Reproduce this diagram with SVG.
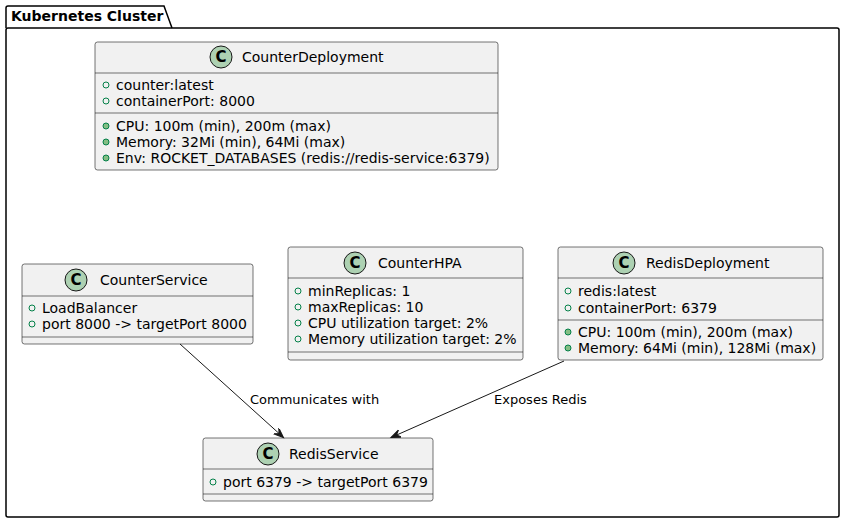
<svg xmlns="http://www.w3.org/2000/svg" width="846" height="523" viewBox="0 0 846 523">
<style>
text{font-family:"DejaVu Sans","Noto Sans",sans-serif;fill:#000}
.box{fill:#F1F1F1;stroke:#181818;stroke-width:0.6}
.sep{stroke:#181818;stroke-width:0.6}
.ci{fill:#ADD1B2;stroke:#181818;stroke-width:1}
.cl{font-size:15px;font-weight:bold;text-anchor:middle}
.nm{font-size:14px}
.at{font-size:14px}
.fo{fill:none;stroke:#038048;stroke-width:1}
.mo{fill:#84BE84;stroke:#038048;stroke-width:1}
.lbl{font-size:13px}
.edge{stroke:#181818;stroke-width:1;fill:none}
</style>
<defs>
<marker id="arr" markerWidth="12" markerHeight="10" refX="10" refY="4" orient="auto" markerUnits="userSpaceOnUse">
<path d="M0,0 L10,4 L0,8 L4,4 Z" fill="#181818" stroke="#181818" stroke-width="1" stroke-linejoin="miter"/>
</marker>
</defs>
<g id="package">
<path d="M6,28 L6,8 Q6,6 8,6 L164,6 L172,28" fill="none" stroke="#000" stroke-width="1.5"/>
<rect x="6" y="28" width="833" height="489" rx="2" fill="none" stroke="#000" stroke-width="1.5"/>
<text x="11" y="21" style="font-size:14px;font-weight:bold">Kubernetes Cluster</text>
</g>
<g id="CounterDeployment">
<rect class="box" x="95" y="42" width="403" height="128" rx="2.5"/>
<circle class="ci" cx="221" cy="57" r="11"/>
<text class="cl" x="221" y="62">C</text>
<text class="nm" x="242" y="62">CounterDeployment</text>
<line class="sep" x1="95" y1="73" x2="498" y2="73"/>
<circle class="fo" cx="106" cy="85" r="3"/><text class="at" x="116" y="90">counter:latest</text>
<circle class="fo" cx="106" cy="101" r="3"/><text class="at" x="116" y="106">containerPort: 8000</text>
<line class="sep" x1="95" y1="113" x2="498" y2="113"/>
<circle class="mo" cx="106" cy="126" r="3"/><text class="at" x="116" y="131">CPU: 100m (min), 200m (max)</text>
<circle class="mo" cx="106" cy="142" r="3"/><text class="at" x="116" y="147">Memory: 32Mi (min), 64Mi (max)</text>
<circle class="mo" cx="106" cy="158" r="3"/><text class="at" x="116" y="163">Env: ROCKET_DATABASES (redis://redis-service:6379)</text>
</g>
<g id="CounterService">
<rect class="box" x="22" y="264" width="231" height="80" rx="2.5"/>
<circle class="ci" cx="76" cy="280" r="11"/>
<text class="cl" x="76" y="285">C</text>
<text class="nm" x="100" y="285">CounterService</text>
<line class="sep" x1="22" y1="296" x2="253" y2="296"/>
<circle class="fo" cx="32" cy="308" r="3"/><text class="at" x="42" y="313">LoadBalancer</text>
<circle class="fo" cx="32" cy="324" r="3"/><text class="at" x="42" y="329">port 8000 -&gt; targetPort 8000</text>
<line class="sep" x1="22" y1="337" x2="253" y2="337"/>
</g>
<g id="CounterHPA">
<rect class="box" x="288" y="247" width="235" height="113" rx="2.5"/>
<circle class="ci" cx="355" cy="263" r="11"/>
<text class="cl" x="355" y="268">C</text>
<text class="nm" x="378" y="268">CounterHPA</text>
<line class="sep" x1="288" y1="278" x2="523" y2="278"/>
<circle class="fo" cx="298" cy="291" r="3"/><text class="at" x="308" y="296">minReplicas: 1</text>
<circle class="fo" cx="298" cy="307" r="3"/><text class="at" x="308" y="312">maxReplicas: 10</text>
<circle class="fo" cx="298" cy="323" r="3"/><text class="at" x="308" y="328">CPU utilization target: 2%</text>
<circle class="fo" cx="298" cy="339" r="3"/><text class="at" x="308" y="344">Memory utilization target: 2%</text>
<line class="sep" x1="288" y1="352" x2="523" y2="352"/>
</g>
<g id="RedisDeployment">
<rect class="box" x="558" y="247" width="265" height="113" rx="2.5"/>
<circle class="ci" cx="624" cy="263" r="11"/>
<text class="cl" x="624" y="268">C</text>
<text class="nm" x="646" y="268">RedisDeployment</text>
<line class="sep" x1="558" y1="278" x2="823" y2="278"/>
<circle class="fo" cx="568" cy="291" r="3"/><text class="at" x="578" y="296">redis:latest</text>
<circle class="fo" cx="568" cy="308" r="3"/><text class="at" x="578" y="313">containerPort: 6379</text>
<line class="sep" x1="558" y1="320" x2="823" y2="320"/>
<circle class="mo" cx="568" cy="332" r="3"/><text class="at" x="578" y="337">CPU: 100m (min), 200m (max)</text>
<circle class="mo" cx="568" cy="348" r="3"/><text class="at" x="578" y="353">Memory: 64Mi (min), 128Mi (max)</text>
</g>
<g id="RedisService">
<rect class="box" x="203" y="438" width="230" height="63" rx="2.5"/>
<circle class="ci" cx="268" cy="454" r="11"/>
<text class="cl" x="268" y="459">C</text>
<text class="nm" x="289" y="459">RedisService</text>
<line class="sep" x1="203" y1="469" x2="433" y2="469"/>
<circle class="fo" cx="213" cy="482" r="3"/><text class="at" x="223" y="487">port 6379 -&gt; targetPort 6379</text>
<line class="sep" x1="203" y1="494" x2="433" y2="494"/>
</g>
<g id="connectors">
<path class="edge" d="M180,344 L283.5,437.5" marker-end="url(#arr)"/>
<text class="lbl" x="250" y="404">Communicates with</text>
<path class="edge" d="M564,361 L391,437.5" marker-end="url(#arr)"/>
<text class="lbl" x="494" y="404">Exposes Redis</text>
</g>
</svg>
